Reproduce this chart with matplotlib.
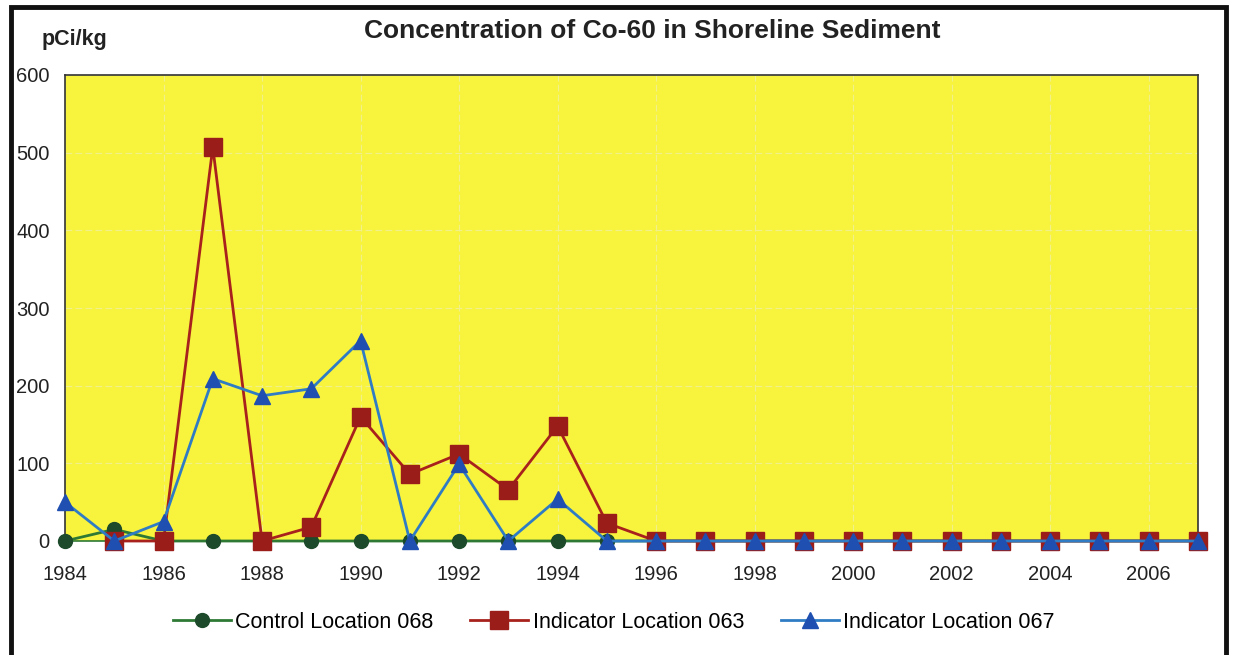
import matplotlib
matplotlib.use("Agg")
import matplotlib.pyplot as plt
from matplotlib.patches import Rectangle

plt.rcParams["font.family"] = ["Liberation Sans", "DejaVu Sans"]

years = list(range(1984, 2008))

# Control Location 068 (pCi/kg)
control_068 = [0, 15, 0, 0, 0, 0, 0, 0, 0, 0, 0, 0,
               0, 0, 0, 0, 0, 0, 0, 0, 0, 0, 0, 0]

# Indicator Location 063 starts in 1985
years_063 = list(range(1985, 2008))
indicator_063 = [0, 0, 507, 0, 18, 160, 86, 112, 66, 148, 23,
                 0, 0, 0, 0, 0, 0, 0, 0, 0, 0, 0, 0]

# Indicator Location 067
indicator_067 = [50, 0, 25, 209, 187, 196, 258, 0, 99, 0, 54, 0,
                 0, 0, 0, 0, 0, 0, 0, 0, 0, 0, 0, 0]

x_ticks = list(range(1984, 2007, 2))
y_ticks = [0, 100, 200, 300, 400, 500, 600]

fig = plt.figure(figsize=(12.35, 6.55), dpi=100)
fig.patch.set_facecolor("white")
ax = fig.add_axes([65 / 1235, 1 - 541 / 655, (1198 - 65) / 1235, (541 - 75) / 655])
ax.set_facecolor("#F8F43E")

# faint grid
ax.grid(True, color="#F2F08A", linewidth=0.8, linestyle=(0, (6, 3)), zorder=0)

ax.plot(years, control_068, color="#2E7A35", linewidth=2, marker="o",
        markersize=10, markerfacecolor="#1C4A2A", markeredgecolor="#1C4A2A",
        label="Control Location 068", clip_on=False, zorder=3)
ax.plot(years_063, indicator_063, color="#A8211C", linewidth=2, marker="s",
        markersize=12.5, markerfacecolor="#9A1D1A", markeredgecolor="#9A1D1A",
        label="Indicator Location 063", clip_on=False, zorder=4)
ax.plot(years, indicator_067, color="#2F7CC4", linewidth=2, marker="^",
        markersize=12, markerfacecolor="#1F4FB0", markeredgecolor="#1F4FB0",
        label="Indicator Location 067", clip_on=False, zorder=5)

ax.set_xlim(1984, 2007)
ax.set_ylim(0, 600)
ax.set_xticks(x_ticks)
ax.set_yticks(y_ticks)
ax.tick_params(axis="both", length=0, labelsize=14.5, colors="#222222")
ax.tick_params(axis="x", pad=17)
ax.tick_params(axis="y", pad=11)
for s in ax.spines.values():
    s.set_color("#333333")
    s.set_linewidth(1.2)
ax.spines["bottom"].set_color("#2E7A35")

fig.text(652 / 1235, 1 - 31 / 655, "Concentration of Co-60 in Shoreline Sediment",
         ha="center", va="center", fontsize=19, fontweight="bold", color="#222222")
fig.text(42 / 1235, 1 - 39 / 655, "pCi/kg", ha="left", va="center",
         fontsize=15.5, fontweight="bold", color="#222222")

fig.legend(loc="center", bbox_to_anchor=(0.497, 1 - 622 / 655), ncol=3,
           frameon=False, fontsize=15.5, handlelength=2.7, columnspacing=1.7,
           handletextpad=0.2)

# outer black frame
fig.patches.append(Rectangle((11 / 1235, -0.05), (1226 - 11) / 1235, 1.05 - 7 / 655,
                             transform=fig.transFigure, fill=False,
                             edgecolor="#111111", linewidth=3.5))

fig.savefig("out.png", dpi=100)
